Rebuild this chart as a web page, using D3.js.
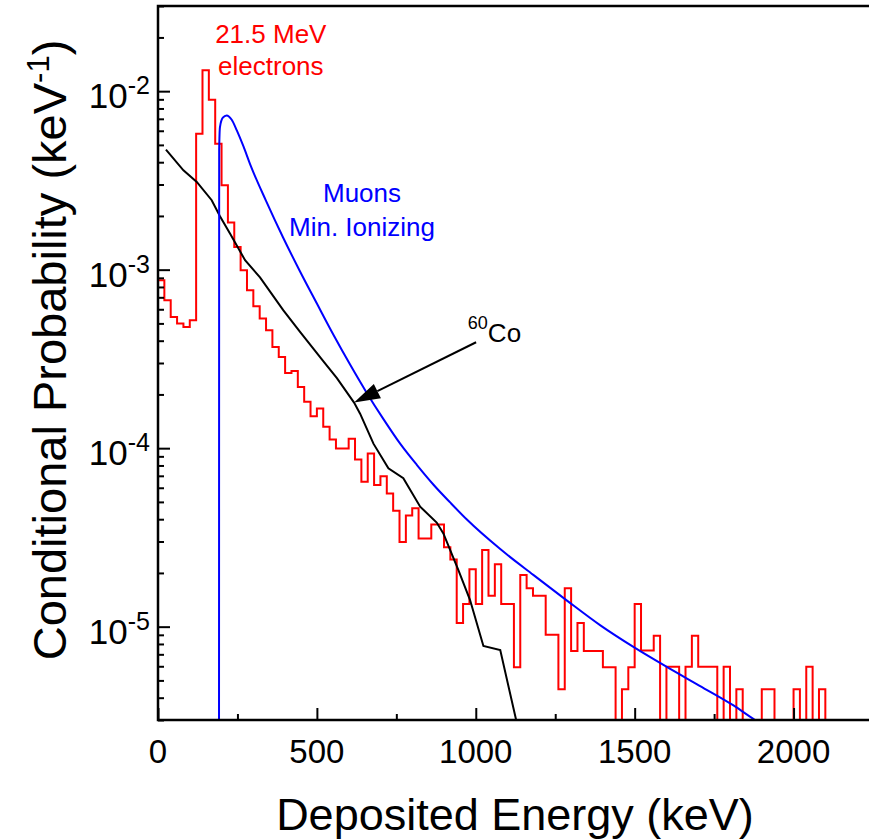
<!DOCTYPE html>
<html>
<head>
<meta charset="utf-8">
<script src="https://cdn.jsdelivr.net/npm/d3@7"></script>
<style>
  body { margin: 0; background: #fff; }
  text { font-family: "Liberation Sans", Arial, Helvetica, sans-serif; }
</style>
</head>
<body>
<svg id="chart" width="869" height="840"></svg>
<script>
// ----------------------
// 1. data
// ----------------------
// 21.5 MeV electrons: histogram, 20 keV bins starting at 0 keV (0 = empty bin)
const elecBinWidth = 20;
const elecValues = [
  8.72e-4, 6.74e-4, 5.43e-4, 4.99e-4, 4.78e-4, 5.21e-4, 5.78e-3, 1.31e-2, 8.95e-3, 5.08e-3,
  2.97e-3, 1.84e-3, 1.34e-3, 9.92e-4, 7.66e-4, 6.24e-4, 5.32e-4, 4.58e-4, 3.69e-4, 3.24e-4,
  2.64e-4, 2.71e-4, 2.20e-4, 1.82e-4, 1.51e-4, 1.67e-4, 1.32e-4, 1.12e-4, 9.97e-5, 9.97e-5,
  1.13e-4, 8.65e-5, 6.48e-5, 9.34e-5, 6.21e-5, 6.97e-5, 5.58e-5, 4.46e-5, 2.98e-5, 4.19e-5,
  4.60e-5, 3.12e-5, 3.12e-5, 3.73e-5, 3.73e-5, 2.79e-5, 2.38e-5, 1.05e-5, 1.34e-5, 2.10e-5,
  1.34e-5, 2.69e-5, 1.49e-5, 2.24e-5, 1.34e-5, 1.34e-5, 5.93e-6, 1.95e-5, 1.64e-5, 1.49e-5,
  1.49e-5, 9.0e-6, 9.0e-6, 4.46e-6, 1.64e-5, 7.31e-6, 1.05e-5, 7.31e-6, 7.31e-6, 7.31e-6,
  5.93e-6, 5.93e-6, 0, 4.46e-6, 5.93e-6, 1.34e-5, 7.36e-6, 7.36e-6, 8.89e-6, 0,
  5.97e-6, 5.97e-6, 0, 5.97e-6, 8.89e-6, 5.97e-6, 5.97e-6, 5.97e-6, 0, 5.97e-6,
  0, 4.46e-6, 0, 0, 0, 4.46e-6, 4.46e-6, 0, 0, 0,
  4.46e-6, 0, 5.97e-6, 0, 4.46e-6
];

// muons, minimum ionizing
const muonEnergy = [192, 192.5, 195, 204, 216, 232, 248, 269, 290, 340, 394, 447, 500, 552, 604,
  657, 710, 762, 815, 867, 920, 972, 1077, 1181, 1287, 1391, 1496, 1601, 1706, 1811, 1879, 2000, 2250];
const muonProb = [0, 4.7e-3, 6.29e-3, 7.1e-3, 7.31e-3, 6.92e-3, 6.03e-3, 4.90e-3, 3.89e-3, 2.43e-3,
  1.51e-3, 9.77e-4, 6.46e-4, 4.32e-4, 2.95e-4, 2.04e-4, 1.45e-4, 1.06e-4, 8.04e-5, 6.24e-5,
  4.95e-5, 3.98e-5, 2.72e-5, 1.95e-5, 1.40e-5, 1.02e-5, 7.7e-6, 5.95e-6, 4.65e-6, 3.62e-6,
  3.0e-6, 2.3e-6, 1.35e-6];

// 60Co
const coEnergy = [25, 80, 122, 169, 195, 227, 274, 321, 394, 447, 520, 563, 617, 636, 678,
  725, 772, 825, 877, 898, 945, 982, 1024, 1077, 1127, 1140];
const coProb = [4.7e-3, 3.6e-3, 3.1e-3, 2.45e-3, 1.99e-3, 1.59e-3, 1.13e-3, 9.06e-4, 5.93e-4,
  4.48e-4, 3.07e-4, 2.47e-4, 1.80e-4, 1.56e-4, 1.06e-4, 7.71e-5, 6.78e-5, 4.70e-5, 3.83e-5,
  3.33e-5, 2.08e-5, 1.41e-5, 7.8e-6, 7.4e-6, 3.0e-6, 2.0e-6];

const xTicks = [0, 500, 1000, 1500, 2000];
const xMinorTicks = [250, 750, 1250, 1750];
const yExponents = [-5, -4, -3, -2];

// ----------------------
// 2. SVG + layout
// ----------------------
const svg = d3.select("#chart");
const margin = { top: 6, left: 158 };
const innerWidth = 715;
const innerHeight = 714;

const g = svg.append("g")
  .attr("transform", `translate(${margin.left},${margin.top})`);

const x = d3.scaleLinear().domain([0, 2250]).range([0, innerWidth]);
const y = d3.scaleLog().domain([3e-6, 3e-2]).range([innerHeight, 0]);

// values of 0 fall below the axis and get clipped
const yPos = v => v > 0 ? y(v) : innerHeight + 20;

svg.append("defs").append("clipPath").attr("id", "plot-clip")
  .append("rect").attr("x", 0).attr("y", 0)
  .attr("width", innerWidth).attr("height", innerHeight);

const plot = g.append("g").attr("clip-path", "url(#plot-clip)");

// ----------------------
// 3. curves
// ----------------------
// electron histogram as a step outline
const elecPts = [{ e: 0, v: 0 }];
elecValues.forEach((v, i) => {
  elecPts.push({ e: i * elecBinWidth, v });
  elecPts.push({ e: (i + 1) * elecBinWidth, v });
});
elecPts.push({ e: elecValues.length * elecBinWidth, v: 0 });

plot.append("path")
  .datum(elecPts)
  .attr("fill", "none")
  .attr("stroke", "#ff0000")
  .attr("stroke-width", 2)
  .attr("d", d3.line().x(d => x(d.e)).y(d => yPos(d.v)));

const coPts = coEnergy.map((e, i) => ({ e, v: coProb[i] }));
plot.append("path")
  .datum(coPts)
  .attr("fill", "none")
  .attr("stroke", "#000")
  .attr("stroke-width", 2)
  .attr("d", d3.line().x(d => x(d.e)).y(d => yPos(d.v)));

const muonPts = muonEnergy.map((e, i) => ({ e, v: muonProb[i] }));
plot.append("path")
  .datum(muonPts)
  .attr("fill", "none")
  .attr("stroke", "#0000ff")
  .attr("stroke-width", 2)
  .attr("d", d3.line().curve(d3.curveMonotoneX).x(d => x(d.e)).y(d => yPos(d.v)));

// ----------------------
// 4. axes (ticks point inward)
// ----------------------
const xAxisG = g.append("g").attr("transform", `translate(0,${innerHeight})`);
xAxisG.call(d3.axisTop(x).tickValues(xMinorTicks).tickSize(6).tickFormat(""));
xAxisG.append("g").call(d3.axisTop(x).tickValues(xTicks).tickSize(12).tickFormat(""));

g.append("g").selectAll("text")
  .data(xTicks)
  .join("text")
  .attr("x", d => x(d))
  .attr("y", innerHeight + 43)
  .attr("text-anchor", "middle")
  .attr("font-size", 33)
  .text(d => d);

const yMinor = [];
for (let p = -6; p <= -2; p++) {
  for (let m = 2; m <= 9; m++) {
    const v = m * Math.pow(10, p);
    if (v >= 3e-6 && v <= 3e-2) yMinor.push(v);
  }
}
const yAxisG = g.append("g");
yAxisG.call(d3.axisRight(y).tickValues(yMinor).tickSize(6).tickFormat(""));
yAxisG.append("g").call(d3.axisRight(y).tickValues(yExponents.map(p => Math.pow(10, p))).tickSize(12).tickFormat(""));

// keep only the tick marks of the d3 axes
g.selectAll(".domain").remove();
g.selectAll(".tick text").remove();
g.selectAll(".tick line").attr("stroke", "#000").attr("stroke-width", 2);

const yLab = g.append("g").selectAll("text")
  .data(yExponents)
  .join("text")
  .attr("x", -8)
  .attr("y", d => y(Math.pow(10, d)) + 17)
  .attr("text-anchor", "end")
  .attr("font-size", 35);
yLab.append("tspan").text("10");
yLab.append("tspan").attr("dy", -14).attr("font-size", 25).text(d => "-" + (-d));

// frame: left, bottom, top
g.append("path")
  .attr("d", `M${innerWidth + 10},0H0V${innerHeight}H${innerWidth + 10}`)
  .attr("fill", "none")
  .attr("stroke", "#000")
  .attr("stroke-width", 2.5);

// ----------------------
// 5. titles + annotations
// ----------------------
svg.append("text")
  .attr("x", 515)
  .attr("y", 830)
  .attr("text-anchor", "middle")
  .attr("font-size", 45)
  .text("Deposited Energy (keV)");

const yTitle = svg.append("text")
  .attr("transform", "translate(66,350) rotate(-90)")
  .attr("text-anchor", "middle")
  .attr("font-size", 47);
yTitle.append("tspan").text("Conditional Probability (keV");
yTitle.append("tspan").attr("dy", -17).attr("font-size", 31).text("-1");
yTitle.append("tspan").attr("dy", 17).text(")");

// electrons label
const elecLabel = g.append("text")
  .attr("text-anchor", "middle")
  .attr("fill", "#ff0000")
  .attr("font-size", 26);
elecLabel.append("tspan").attr("x", x(355)).attr("y", y(1.86e-2)).text("21.5 MeV");
elecLabel.append("tspan").attr("x", x(355)).attr("dy", 32).text("electrons");

// muons label
const muLabel = g.append("text")
  .attr("text-anchor", "middle")
  .attr("fill", "#0000ff")
  .attr("font-size", 26);
muLabel.append("tspan").attr("x", x(642)).attr("y", y(2.4e-3)).text("Muons");
muLabel.append("tspan").attr("x", x(642)).attr("dy", 34).text("Min. Ionizing");

// 60Co arrow
const tip = [x(617), y(1.8e-4)];
const tail = [x(1001), y(3.92e-4)];
const ang = Math.atan2(tail[1] - tip[1], tail[0] - tip[0]);
const headLen = 26, headW = 8;
const hx = tip[0] + headLen * Math.cos(ang), hy = tip[1] + headLen * Math.sin(ang);
g.append("line")
  .attr("x1", tail[0]).attr("y1", tail[1])
  .attr("x2", hx).attr("y2", hy)
  .attr("stroke", "#000").attr("stroke-width", 2);
g.append("path")
  .attr("d", `M${tip[0]},${tip[1]}L${hx - headW * Math.sin(ang)},${hy + headW * Math.cos(ang)}L${hx + headW * Math.sin(ang)},${hy - headW * Math.cos(ang)}Z`)
  .attr("fill", "#000");

const coLabel = g.append("text")
  .attr("x", x(975))
  .attr("y", y(3.92e-4))
  .attr("font-size", 26);
coLabel.append("tspan").attr("dy", -13).attr("font-size", 18).text("60");
coLabel.append("tspan").attr("dy", 13).text("Co");
</script>
</body>
</html>
